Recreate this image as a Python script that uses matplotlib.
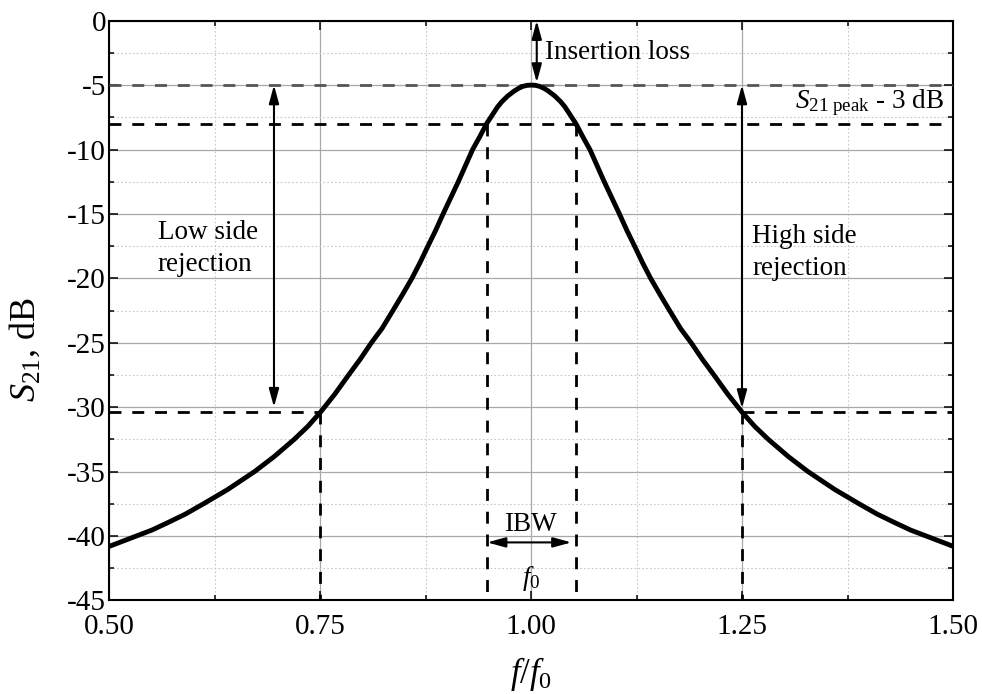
"""Band-pass filter response S21 vs normalised frequency, with the usual figures of merit marked."""

import matplotlib.pyplot as plt
from matplotlib.ticker import MultipleLocator

plt.rcParams["font.family"] = "Liberation Serif"
plt.rcParams["mathtext.fontset"] = "custom"
plt.rcParams["mathtext.rm"] = "Liberation Serif"
plt.rcParams["mathtext.it"] = "Liberation Serif:italic"
plt.rcParams["axes.unicode_minus"] = False

# measured response, f/f0 and S21 in dB
FREQ = [0.500, 0.532, 0.550, 0.568, 0.590, 0.6115, 0.640, 0.672, 0.695,
        0.719, 0.735, 0.750, 0.767, 0.7835, 0.797, 0.8105, 0.823, 0.836,
        0.847, 0.8585, 0.868, 0.8775, 0.8865, 0.8955, 0.9045, 0.9135, 0.922,
        0.9305, 0.939, 0.947, 0.954, 0.960, 0.965, 0.972, 0.980, 0.985,
        0.990, 0.995, 1.000,
        1.005, 1.010, 1.015, 1.020, 1.028, 1.035, 1.040, 1.046, 1.053,
        1.061, 1.0695, 1.078, 1.0865, 1.0955, 1.1045, 1.1135, 1.1225, 1.132,
        1.1415, 1.153, 1.164, 1.177, 1.1895, 1.203, 1.2165, 1.233, 1.250,
        1.265, 1.281, 1.305, 1.328, 1.360, 1.3885, 1.410, 1.432, 1.450,
        1.468, 1.500]
S21 = [-40.8, -40.0, -39.55, -39.0, -38.3, -37.5, -36.4, -35.0, -33.85,
       -32.5, -31.5, -30.4, -29.0, -27.5, -26.3, -25.0, -23.9, -22.5,
       -21.3, -20.0, -18.8, -17.5, -16.3, -15.0, -13.75, -12.5, -11.25,
       -10.0, -9.0, -8.0, -7.3, -6.7, -6.3, -5.85, -5.45, -5.25,
       -5.1, -5.02, -5.0,
       -5.02, -5.1, -5.25, -5.45, -5.85, -6.3, -6.7, -7.3, -8.0,
       -9.0, -10.0, -11.25, -12.5, -13.75, -15.0, -16.3, -17.5, -18.8,
       -20.0, -21.3, -22.5, -23.9, -25.0, -26.3, -27.5, -29.0, -30.4,
       -31.5, -32.5, -33.85, -35.0, -36.4, -37.5, -38.3, -39.0, -39.55,
       -40.0, -40.8]

X_TICKS = [0.50, 0.75, 1.00, 1.25, 1.50]
X_TICK_LABELS = ["0.50", "0.75", "1.00", "1.25", "1.50"]
Y_TICKS = [0, -5, -10, -15, -20, -25, -30, -35, -40, -45]

PEAK = -5.0            # S21 peak
HALF_POWER = -8.0      # peak - 3 dB
IBW_EDGES = [0.947, 1.053]
REJ_FREQS = [0.75, 1.25]
REJ_LEVEL = -30.4

DASH = (4.3, 3.9)
ARROW = dict(arrowstyle="<|-|>,head_length=0.55,head_width=0.15",
             mutation_scale=20, lw=1.5, color="black", shrinkA=0, shrinkB=0)


def arrow(ax, x1, y1, x2, y2):
    ax.annotate("", xy=(x2, y2), xytext=(x1, y1), arrowprops=ARROW, zorder=6)


fig = plt.figure(figsize=(9.82, 6.94), dpi=100)
ax = fig.add_axes([0.1115, 0.1349, 0.859, 0.8353])

ax.set_xlim(0.5, 1.5)
ax.set_ylim(-45, 0)
ax.set_xticks(X_TICKS)
ax.set_xticklabels(X_TICK_LABELS)
ax.set_yticks(Y_TICKS)
ax.set_yticklabels([str(v) for v in Y_TICKS])
ax.xaxis.set_minor_locator(MultipleLocator(0.125))
ax.yaxis.set_minor_locator(MultipleLocator(2.5))

ax.set_axisbelow(True)
ax.grid(which="major", color="#a8a8a8", lw=0.9, ls="-")
ax.grid(which="minor", color="#c8c8c8", lw=0.8, ls=(0, (1.5, 2.0)))

ax.tick_params(which="both", direction="in", top=True, right=True,
               width=1.1, labelsize=21)
ax.tick_params(which="major", length=6.5)
ax.tick_params(which="minor", length=3.3)
ax.tick_params(axis="x", pad=10)
ax.tick_params(axis="y", pad=2.5)
for sp in ax.spines.values():
    sp.set_linewidth(1.5)

# reference levels
ax.axhline(PEAK, color="#555555", lw=2, dashes=DASH, zorder=3)
ax.axhline(HALF_POWER, color="black", lw=2, dashes=DASH, zorder=3)
for f in IBW_EDGES:
    ax.plot([f, f], [HALF_POWER, -45], color="black", lw=2, dashes=DASH, zorder=3)
ax.plot([0.5, REJ_FREQS[0]], [REJ_LEVEL, REJ_LEVEL], color="black", lw=2, dashes=DASH, zorder=3)
ax.plot([REJ_FREQS[1], 1.5], [REJ_LEVEL, REJ_LEVEL], color="black", lw=2, dashes=DASH, zorder=3)
for f in REJ_FREQS:
    ax.plot([f, f], [REJ_LEVEL, -45], color="black", lw=2, dashes=DASH, zorder=3)

# the response curve
ax.plot(FREQ, S21, color="black", lw=3.5, zorder=5, solid_joinstyle="round")

# annotations
arrow(ax, 1.0065, 0, 1.0065, -4.8)
ax.text(1.016, -2.5, "Insertion loss", fontsize=19.5, ha="left", va="center")

arrow(ax, 0.695, PEAK, 0.695, -30.0)
ax.text(0.557, -17.7, "Low side\nrejection", fontsize=19.5, ha="left",
        va="center", linespacing=1.4)

arrow(ax, 1.2498, PEAK, 1.2498, -30.1)
ax.text(1.262, -18.0, "High side\nrejection", fontsize=19.5, ha="left",
        va="center", linespacing=1.4)

ax.text(1.4887, -6.8, r"$S_{21\ \mathrm{peak}}$ - 3 dB", fontsize=19.5,
        ha="right", va="baseline")

arrow(ax, 0.9477, -40.5, 1.0476, -40.5)
ax.text(0.999, -39.1, "IBW", fontsize=19.5, ha="center", va="center")
ax.text(1.0, -43.3, r"$f_0$", fontsize=19.5, ha="center", va="center")

fig.text(25 / 982, 1 - 350 / 694, r"$S_{21}$, dB", fontsize=26,
         rotation=90, ha="center", va="center")
fig.text(531 / 982, 1 - 674 / 694, r"$f/f_0$", fontsize=25,
         ha="center", va="center")

fig.savefig("out.png", dpi=100)
